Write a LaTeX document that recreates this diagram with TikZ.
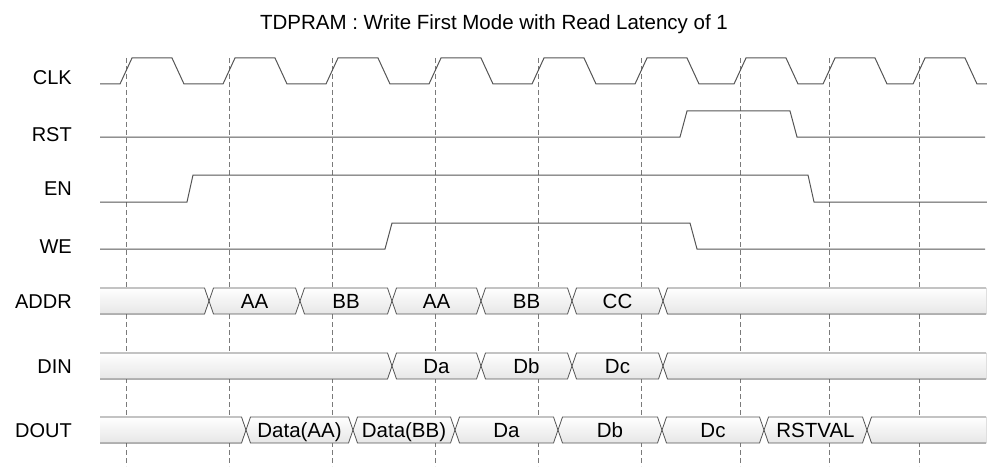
\documentclass[tikz,border=0pt]{standalone}
\usepackage{fontspec}
\setmainfont{Liberation Sans}

\definecolor{wavegray}{HTML}{555555}
\definecolor{gridgray}{HTML}{7A7A7A}
\definecolor{busfill}{HTML}{E6E6E6}

\tikzset{
  wave/.style={draw=wavegray,line width=1pt},
  gridline/.style={draw=gridgray,line width=0.9pt,dash pattern=on 5pt off 3pt},
  sig/.style={anchor=base east,inner sep=0pt,font=\fontsize{20}{24}\selectfont},
  buslbl/.style={anchor=base,inner sep=0pt,font=\fontsize{20.5}{24}\selectfont},
  busbox/.style={top color=white,bottom color=busfill,draw=wavegray,line width=0.8pt}
}

% #1 centre y, #2 from x, #3 to x, #4 text
\newcommand\busseg[4]{%
  \path[busbox] (#2,#1) -- (#2+4.5,#1-13) -- (#3-4.5,#1-13) -- (#3,#1)
    -- (#3-4.5,#1+13) -- (#2+4.5,#1+13) -- cycle;
  \node[buslbl] at ({(#2+#3)/2},#1+7) {#4};}
\newcommand\busfirst[2]{%
  \fill[busbox,draw=none] (100,#1-13) -- (#2-4.5,#1-13) -- (#2,#1)
    -- (#2-4.5,#1+13) -- (100,#1+13) -- cycle;
  \draw[wave,line width=0.8pt] (100,#1-13) -- (#2-4.5,#1-13) -- (#2,#1)
    -- (#2-4.5,#1+13) -- (100,#1+13);}
\newcommand\buslast[2]{%
  \fill[busbox,draw=none] (#2,#1) -- (#2+4.5,#1-13) -- (986,#1-13)
    -- (986,#1+13) -- (#2+4.5,#1+13) -- cycle;
  \draw[wave,line width=0.8pt] (986,#1-13) -- (#2+4.5,#1-13) -- (#2,#1)
    -- (#2+4.5,#1+13) -- (986,#1+13);}

\begin{document}
\begin{tikzpicture}[x=1pt,y=-1pt]
\useasboundingbox (0,0) rectangle (987,468);

\node[anchor=base,inner sep=0pt,font=\fontsize{20.5}{24}\selectfont] (title) at (494,30)
  {TDPRAM : Write First Mode with Read Latency of 1};

\node[sig] (clk) at (72,85) {CLK};
\node[sig] (rst) at (72,141) {RST};
\node[sig] (en) at (72,195) {EN};
\node[sig] (we) at (72,253) {WE};
\node[sig] (addr) at (72,308) {ADDR};
\node[sig] (din) at (72,373) {DIN};
\node[sig] (dout) at (72,437) {DOUT};

\foreach \r in {126,229,332,435,538,641,740,829,919}
  \draw[gridline] (\r,58) -- (\r,466);

\draw[wave] (100,84) \foreach \r in {126,229,332,435,538,641,740,829,919}
  { -- (\r-6,84) -- (\r+6,58) -- (\r+46,58) -- (\r+58,84) } -- (987,84);
\draw[wave] (100,137) -- (680,137) -- (687,111) -- (790,111) -- (797,137) -- (985,137);
\draw[wave] (100,202) -- (187,202) -- (193,175) -- (808,175) -- (814,202) -- (987,202);
\draw[wave] (100,249) -- (385,249) -- (392,223) -- (690,223) -- (697,249) -- (985,249);

\busfirst{301}{209}
\busseg{301}{209}{300}{AA}
\busseg{301}{300}{392}{BB}
\busseg{301}{392}{481}{AA}
\busseg{301}{481}{572}{BB}
\busseg{301}{572}{663}{CC}
\buslast{301}{663}

\busfirst{366}{392}
\busseg{366}{392}{481}{Da}
\busseg{366}{481}{572}{Db}
\busseg{366}{572}{663}{Dc}
\buslast{366}{663}

\busfirst{430}{246}
\busseg{430}{246}{353}{Data(AA)}
\busseg{430}{353}{455}{Data(BB)}
\busseg{430}{455}{558}{Da}
\busseg{430}{558}{662}{Db}
\busseg{430}{662}{764}{Dc}
\busseg{430}{764}{867}{RSTVAL}
\buslast{430}{867}
\end{tikzpicture}
\end{document}
